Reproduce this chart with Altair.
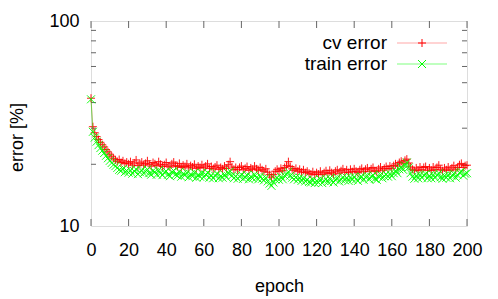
import altair as alt
import pandas as pd

# ---- data ----
epochs = list(range(0, 201))

cv_error = [
    42.0, 30.5, 28.5, 27.3, 26.4, 25.6, 24.9, 24.3, 23.6, 23.0,
    22.4, 21.9, 21.4, 21.0, 20.6, 21.1, 20.4, 20.8, 20.2, 20.5,
    20.1, 20.6, 19.8, 20.3, 21.0, 19.7, 20.1, 20.5, 19.8, 20.2,
    20.8, 20.0, 19.6, 20.4, 20.1, 19.7, 20.6, 20.0, 19.5, 19.9,
    20.4, 19.6, 19.4, 20.1, 20.5, 19.7, 19.5, 20.2, 19.3, 19.8,
    19.5, 20.1, 19.2, 19.7, 19.4, 20.0, 19.1, 19.6, 19.3, 19.9,
    19.2, 19.6, 20.1, 19.1, 19.5, 19.0, 19.4, 19.8, 18.9, 19.3,
    19.0, 19.6, 19.1, 19.9, 20.6, 19.4, 18.9, 19.3, 18.8, 19.3,
    19.6, 18.8, 19.1, 19.5, 18.7, 19.2, 18.9, 19.6, 19.0, 18.7,
    19.3, 18.8, 18.5, 19.0, 18.3, 17.8, 17.3, 17.8, 18.5, 18.9,
    18.5, 19.1, 18.6, 19.3, 19.7, 20.6, 19.5, 19.0, 18.7, 19.1,
    18.5, 18.9, 18.3, 18.8, 18.2, 18.5, 18.1, 17.9, 18.4, 17.8,
    18.2, 17.9, 18.5, 17.8, 18.2, 18.6, 18.0, 18.7, 18.2, 17.9,
    18.5, 18.8, 18.1, 18.6, 19.0, 18.3, 18.8, 18.2, 18.9, 18.4,
    19.0, 18.5, 18.2, 18.8, 19.1, 18.4, 18.9, 19.2, 18.5, 19.0,
    19.3, 18.6, 18.4, 19.0, 19.4, 18.7, 19.1, 19.5, 19.0, 19.6,
    19.1, 19.7, 20.1, 19.6, 20.4, 20.7, 20.1, 20.9, 21.2, 20.3,
    19.4, 18.9, 18.6, 19.2, 18.7, 19.4, 18.8, 19.3, 19.5, 18.7,
    19.2, 18.7, 19.4, 18.8, 19.3, 19.8, 18.9, 18.6, 19.2, 18.8,
    19.4, 18.7, 19.2, 19.7, 18.8, 19.3, 19.9, 20.2, 19.3, 19.7,
    19.8,
]

train_error = [
    41.5, 28.8, 27.0, 25.8, 24.8, 24.0, 23.3, 22.7, 22.0, 21.4,
    20.8, 20.3, 19.9, 19.6, 19.2, 18.8, 18.6, 19.0, 18.3, 18.6,
    18.2, 18.7, 18.0, 18.5, 18.9, 17.9, 18.3, 18.7, 18.1, 18.4,
    18.9, 18.1, 17.8, 18.6, 18.3, 17.8, 18.7, 18.1, 17.7, 18.2,
    18.5, 17.8, 17.5, 18.3, 18.6, 17.8, 17.6, 18.4, 17.4, 18.0,
    17.7, 18.2, 17.3, 17.9, 17.5, 18.2, 17.2, 17.8, 17.4, 18.1,
    17.3, 17.8, 18.2, 17.2, 17.7, 17.1, 17.6, 18.0, 17.1, 17.5,
    17.2, 17.8, 17.3, 18.1, 18.5, 17.6, 17.1, 17.5, 17.0, 17.4,
    17.8, 17.0, 17.3, 17.7, 16.9, 17.4, 17.1, 17.8, 17.2, 16.9,
    17.5, 17.0, 16.7, 17.2, 16.5, 16.1, 15.7, 16.3, 16.9, 17.2,
    16.8, 17.4, 16.9, 17.6, 17.9, 18.4, 17.6, 17.2, 16.9, 17.3,
    16.8, 17.2, 16.6, 17.1, 16.5, 16.8, 16.4, 16.3, 16.8, 16.2,
    16.6, 16.3, 16.9, 16.2, 16.6, 17.0, 16.4, 17.1, 16.6, 16.3,
    16.8, 17.2, 16.5, 16.9, 17.3, 16.7, 17.2, 16.6, 17.3, 16.8,
    17.4, 16.9, 16.6, 17.2, 17.4, 16.8, 17.3, 17.6, 16.9, 17.4,
    17.7, 17.0, 16.8, 17.4, 17.8, 17.1, 17.5, 17.9, 17.4, 18.0,
    17.5, 18.1, 18.6, 18.1, 18.9, 19.4, 18.8, 19.7, 20.4, 19.3,
    18.1, 17.4, 17.0, 17.6, 17.1, 17.8, 17.2, 17.7, 17.9, 17.1,
    17.6, 17.1, 17.8, 17.2, 17.7, 18.1, 17.3, 17.0, 17.6, 17.2,
    17.8, 17.1, 17.6, 18.0, 17.2, 17.7, 18.2, 18.4, 17.6, 18.0,
    18.1,
]

series_names = ["cv error", "train error"]
x_ticks = [0, 20, 40, 60, 80, 100, 120, 140, 160, 180, 200]
y_labels = [10, 100]
y_minor = [20, 30, 40, 50, 60, 70, 80, 90]

# ---- layout / style ----
W, H = 376, 205
FONT = "Liberation Sans"
FS = 18
TFS = 18
LFS = 19
RED = "#ff0000"
GREEN = "#00ff00"
PLUS = "M-1,0L1,0M0,-1L0,1"
XSHAPE = "M-1,-1L1,1M-1,1L1,-1"

cv_df = pd.DataFrame({"epoch": epochs, "value": cv_error})
tr_df = pd.DataFrame({"epoch": epochs, "value": train_error})
xt_df = pd.DataFrame({"epoch": x_ticks})
yt_df = pd.DataFrame({"value": y_minor})

xaxis = alt.Axis(values=x_ticks, ticks=False, domain=False, grid=False,
                 labelFont=FONT, labelFontSize=FS, labelColor="black",
                 labelPadding=15, labelOverlap=False, labelFlush=False,
                 title="epoch", titleFont=FONT,
                 titleFontSize=TFS, titleFontWeight="normal", titleColor="black",
                 titleX=W / 2, titleY=65, titleBaseline="alphabetic",
                 titleAlign="center")
yaxis = alt.Axis(values=y_labels, ticks=False, domain=False, grid=False,
                 labelFont=FONT, labelFontSize=FS, labelColor="black",
                 labelPadding=12, labelOverlap=False, labelFlush=False,
                 title="error [%]", titleFont=FONT,
                 titleFontSize=TFS, titleFontWeight="normal", titleColor="black",
                 titleAngle=270, titleX=-74, titleY=116, titleBaseline="middle",
                 titleAlign="center", format="d")

X = alt.X("epoch:Q", scale=alt.Scale(domain=[0, 200], nice=False), axis=xaxis)
Y = alt.Y("value:Q", scale=alt.Scale(type="log", domain=[10, 100], nice=False),
          axis=yaxis)

cv_line = alt.Chart(cv_df).mark_line(color=RED, opacity=0.35, strokeWidth=1).encode(x=X, y=Y)
cv_pts = alt.Chart(cv_df).mark_point(shape=PLUS, filled=False, color=RED,
                                      size=64, strokeWidth=1, opacity=0.9).encode(x=X, y=Y)
tr_line = alt.Chart(tr_df).mark_line(color=GREEN, opacity=0.5, strokeWidth=1).encode(x=X, y=Y)
tr_pts = alt.Chart(tr_df).mark_point(shape=XSHAPE, filled=False, color=GREEN,
                                      size=64, strokeWidth=1, opacity=0.9).encode(x=X, y=Y)

TICK = "#666666"
xt_bot = alt.Chart(xt_df).mark_rule(color=TICK, strokeWidth=1).encode(
    x=X, y=alt.value(H), y2=alt.value(H - 7))
xt_top = alt.Chart(xt_df).mark_rule(color=TICK, strokeWidth=1).encode(
    x=X, y=alt.value(0), y2=alt.value(7))
yt_left = alt.Chart(yt_df).mark_rule(color=TICK, strokeWidth=1).encode(
    y=Y, x=alt.value(0), x2=alt.value(5))
yt_right = alt.Chart(yt_df).mark_rule(color=TICK, strokeWidth=1).encode(
    y=Y, x=alt.value(W), x2=alt.value(W - 5))

# ---- legend (top right, gnuplot style) ----
leg_layers = []
for i, (name, col, shp, lop) in enumerate(
        [(series_names[0], RED, PLUS, 0.35), (series_names[1], GREEN, XSHAPE, 0.5)]):
    ly = 22 + i * 21
    d = pd.DataFrame({"label": [name]})
    leg_layers.append(alt.Chart(d).mark_text(align="right", baseline="middle",
                                             font=FONT, fontSize=LFS, color="black").encode(
        x=alt.value(296), y=alt.value(ly), text="label:N"))
    leg_layers.append(alt.Chart(d).mark_rule(color=col, opacity=lop, strokeWidth=1).encode(
        x=alt.value(306), x2=alt.value(356), y=alt.value(ly)))
    leg_layers.append(alt.Chart(d).mark_point(shape=shp, filled=False, color=col,
                                              size=64, strokeWidth=1, opacity=1).encode(
        x=alt.value(331), y=alt.value(ly)))

chart = alt.layer(
    xt_bot, xt_top, yt_left, yt_right,
    cv_line, cv_pts, tr_line, tr_pts,
    *leg_layers,
).properties(
    width=W, height=H,
    autosize=alt.AutoSizeParams(type="none"),
    padding={"left": 83, "top": 13, "right": 23, "bottom": 78},
).configure_view(stroke="#222222", strokeWidth=1).configure(background="white")

chart.save("out.html", embed_options={"renderer": "svg", "actions": False})
